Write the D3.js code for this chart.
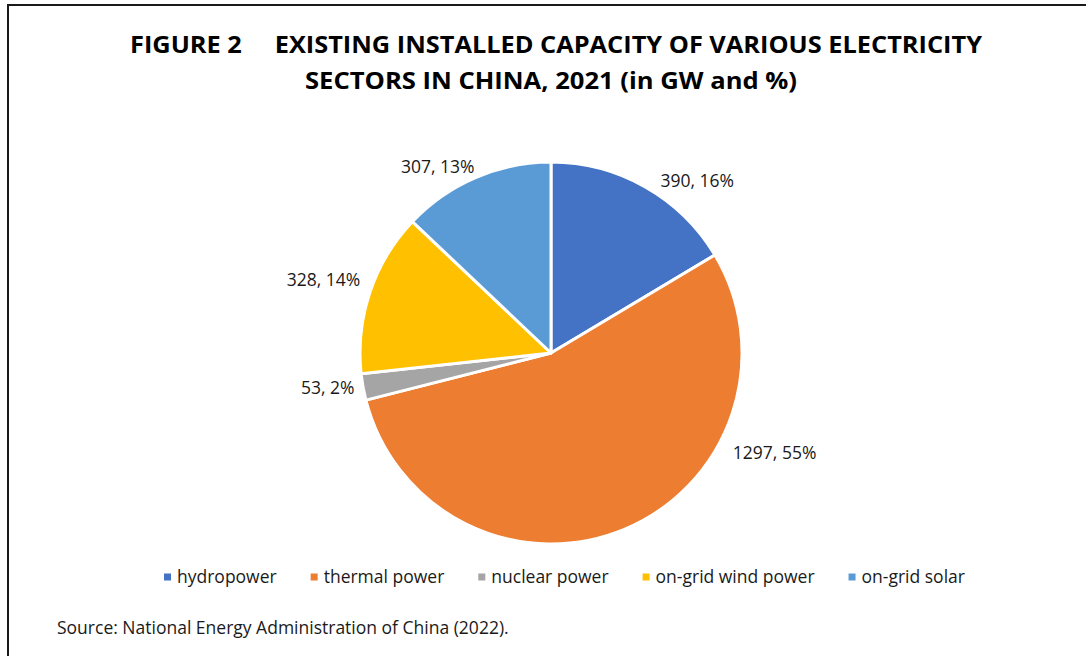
<!DOCTYPE html>
<html>
<head>
<meta charset="utf-8">
<script src="https://cdn.jsdelivr.net/npm/d3@7"></script>
<style>
  html, body { margin: 0; padding: 0; background: #fff; }
  svg { display: block; font-family: "Open Sans", sans-serif; }
</style>
</head>
<body>
<svg id="chart"></svg>
<script>
// данные
const sectors = ['hydropower', 'thermal power', 'nuclear power', 'on-grid wind power', 'on-grid solar'];
const capacity = [390, 1297, 53, 328, 307];
const colors = ['#4472C4', '#ED7D31', '#A5A5A5', '#FFC000', '#5B9BD5'];
const titleLines = ['FIGURE 2     EXISTING INSTALLED CAPACITY OF VARIOUS ELECTRICITY',
                    'SECTORS IN CHINA, 2021 (in GW and %)'];
const source = 'Source: National Energy Administration of China (2022).';

// where Excel put each data label: angle from 12 o'clock (deg), distance from centre
const labelPlace = [[40.3, 226], [114.1, 245], [261.1, 226], [287.8, 239], [328.7, 218]];
// title line widths / centres as in the picture
const titleFit = [[556, 852], [551, 492]];

const width = 1086;
const height = 656;
const cx = 551, cy = 353, radius = 191;

let svg = d3.select('#chart').attr('width', width).attr('height', height);

// frame (only left and top edges are in the picture)
svg.append('path')
    .attr('d', `M8,${height} L8,5 L${width},5`)
    .attr('fill', 'none')
    .attr('stroke', '#1a1a1a')
    .attr('stroke-width', 2);

// title
svg.selectAll('.title')
    .data(titleLines)
    .enter()
    .append('text')
    .attr('class', 'title')
    .attr('x', (d, i) => titleFit[i][0])
    .attr('y', (d, i) => 53 + i * 36)
    .attr('text-anchor', 'middle')
    .attr('textLength', (d, i) => titleFit[i][1])
    .attr('lengthAdjust', 'spacingAndGlyphs')
    .style('white-space', 'pre')
    .style('font-weight', 'bold')
    .style('font-size', '23px')
    .attr('fill', '#000')
    .text(d => d);

// pie
let data = sectors.map((s, i) => ({ sector: s, value: capacity[i], color: colors[i] }));
let total = d3.sum(capacity);
let pie = d3.pie().value(d => d.value).sort(null);
let arc = d3.arc().innerRadius(0).outerRadius(radius);
let arcs = pie(data);

let g = svg.append('g').attr('transform', `translate(${cx}, ${cy})`);
g.selectAll('path')
    .data(arcs)
    .enter()
    .append('path')
    .attr('d', arc)
    .attr('fill', d => d.data.color)
    .attr('stroke', '#fff')
    .attr('stroke-width', 3)
    .attr('stroke-linejoin', 'round');

let pct = d3.format('.0%');
g.selectAll('.lbl')
    .data(arcs)
    .enter()
    .append('text')
    .attr('class', 'lbl')
    .attr('x', (d, i) => Math.sin(labelPlace[i][0] * Math.PI / 180) * labelPlace[i][1])
    .attr('y', (d, i) => -Math.cos(labelPlace[i][0] * Math.PI / 180) * labelPlace[i][1])
    .attr('dy', '0.35em')
    .attr('text-anchor', 'middle')
    .style('font-size', '17.5px')
    .attr('fill', '#1a1a1a')
    .text(d => `${d.data.value}, ${pct(d.data.value / total)}`);

// legend
let legend = svg.append('g').attr('transform', 'translate(0, 577)');
let lx = 164;
data.forEach(d => {
    let item = legend.append('g').attr('transform', `translate(${lx}, 0)`);
    item.append('rect')
        .attr('x', 0).attr('y', -3.5)
        .attr('width', 7).attr('height', 7)
        .attr('fill', d.color);
    let t = item.append('text')
        .attr('x', 13)
        .attr('dy', '0.35em')
        .style('font-size', '17.5px')
        .attr('fill', '#1a1a1a')
        .text(d.sector);
    lx += 13 + t.node().getComputedTextLength() + 34;
});

// source
svg.append('text')
    .attr('x', 57)
    .attr('y', 634)
    .style('font-size', '17.5px')
    .attr('fill', '#1a1a1a')
    .text(source);
</script>
</body>
</html>
